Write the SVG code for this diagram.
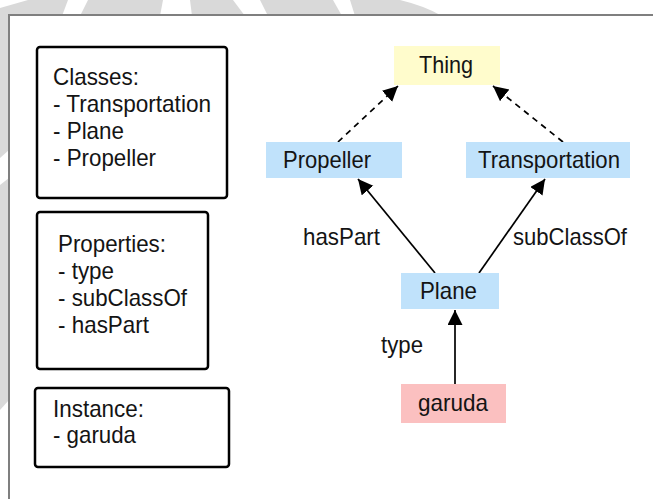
<svg xmlns="http://www.w3.org/2000/svg" width="653" height="499" viewBox="0 0 653 499">
  <style>
    .wm { fill: #d9d9d9; }
    .box { fill: #ffffff; stroke: #000000; stroke-width: 2.5; }
    .t { font-family: "Liberation Sans", Arial, sans-serif; font-size: 24px; fill: #141414; }
    .c { text-anchor: middle; }
    .edge { stroke: #000000; stroke-width: 1.7; fill: none; }
    .dash { stroke-dasharray: 6 5; }
    .blue { fill: #c0e2fb; }
  </style>
  <defs>
    <marker id="arrow" markerUnits="userSpaceOnUse" markerWidth="17" markerHeight="16" refX="15" refY="7.5" orient="auto">
      <path d="M0,0 L15,7.5 L0,15 z" fill="#000000"/>
    </marker>
  </defs>

  <rect x="0" y="0" width="653" height="499" fill="#ffffff"/>

  <!-- watermark outside the frame -->
  <g id="watermark">
    <polygon class="wm" points="28,0 68,0 62,16 0,16 0,8"/>
    <polygon class="wm" points="88,0 163,0 160,16 80,16"/>
    <polygon class="wm" points="190,0 233,0 245,16 192,16"/>
    <polygon class="wm" points="260,0 333,0 342,16 268,16"/>
    <path class="wm" d="M350,0 L400,0 Q425,6 442,16 L355,16 Z"/>
    <polygon class="wm" points="0,16 9,16 9,150 0,158"/>
    <polygon class="wm" points="0,185 9,178 9,400 0,410"/>
  </g>

  <!-- frame -->
  <rect x="9" y="15" width="700" height="600" fill="#ffffff" stroke="#7f7f7f" stroke-width="2"/>

  <!-- legend boxes -->
  <g id="classes-box">
    <rect class="box" x="37" y="47" width="190" height="151" rx="3"/>
    <text class="t" x="53" y="85" textLength="86" lengthAdjust="spacingAndGlyphs">Classes:</text>
    <text class="t" x="53" y="112" textLength="158" lengthAdjust="spacingAndGlyphs">- Transportation</text>
    <text class="t" x="53" y="139" textLength="71" lengthAdjust="spacingAndGlyphs">- Plane</text>
    <text class="t" x="53" y="166" textLength="103" lengthAdjust="spacingAndGlyphs">- Propeller</text>
  </g>
  <g id="properties-box">
    <rect class="box" x="37" y="212" width="171" height="157" rx="3"/>
    <text class="t" x="58" y="252" textLength="108" lengthAdjust="spacingAndGlyphs">Properties:</text>
    <text class="t" x="58" y="279" textLength="56" lengthAdjust="spacingAndGlyphs">- type</text>
    <text class="t" x="58" y="306" textLength="129" lengthAdjust="spacingAndGlyphs">- subClassOf</text>
    <text class="t" x="58" y="333" textLength="91" lengthAdjust="spacingAndGlyphs">- hasPart</text>
  </g>
  <g id="instance-box">
    <rect class="box" x="35" y="388" width="194" height="79" rx="3"/>
    <text class="t" x="53" y="417" textLength="91" lengthAdjust="spacingAndGlyphs">Instance:</text>
    <text class="t" x="53" y="443" textLength="83" lengthAdjust="spacingAndGlyphs">- garuda</text>
  </g>

  <!-- connectors -->
  <g id="connectors">
    <line class="edge dash" x1="338" y1="142" x2="398" y2="86" marker-end="url(#arrow)"/>
    <line class="edge dash" x1="563" y1="142" x2="493" y2="86" marker-end="url(#arrow)"/>
    <line class="edge" x1="435" y1="273" x2="358" y2="179" marker-end="url(#arrow)"/>
    <line class="edge" x1="479" y1="273" x2="545" y2="179" marker-end="url(#arrow)"/>
    <line class="edge" x1="455" y1="384" x2="455" y2="310" marker-end="url(#arrow)"/>
    <text class="t" x="303" y="245" textLength="77" lengthAdjust="spacingAndGlyphs">hasPart</text>
    <text class="t" x="513" y="245" textLength="114" lengthAdjust="spacingAndGlyphs">subClassOf</text>
    <text class="t" x="381" y="353" textLength="42" lengthAdjust="spacingAndGlyphs">type</text>
  </g>

  <!-- nodes -->
  <g id="node-thing">
    <rect x="394" y="46" width="106" height="39" fill="#fffccc"/>
    <text class="t c" x="446" y="73" textLength="54" lengthAdjust="spacingAndGlyphs">Thing</text>
  </g>
  <g id="node-propeller">
    <rect class="blue" x="266" y="142" width="136" height="36"/>
    <text class="t c" x="327" y="168" textLength="88" lengthAdjust="spacingAndGlyphs">Propeller</text>
  </g>
  <g id="node-transportation">
    <rect class="blue" x="466" y="142" width="164" height="36"/>
    <text class="t c" x="549" y="168" textLength="142" lengthAdjust="spacingAndGlyphs">Transportation</text>
  </g>
  <g id="node-plane">
    <rect class="blue" x="401" y="273" width="98" height="36"/>
    <text class="t c" x="448.5" y="299" textLength="57" lengthAdjust="spacingAndGlyphs">Plane</text>
  </g>
  <g id="node-garuda">
    <rect x="401" y="384" width="105" height="39" fill="#fbc0c0"/>
    <text class="t c" x="453" y="411" textLength="70" lengthAdjust="spacingAndGlyphs">garuda</text>
  </g>
</svg>
